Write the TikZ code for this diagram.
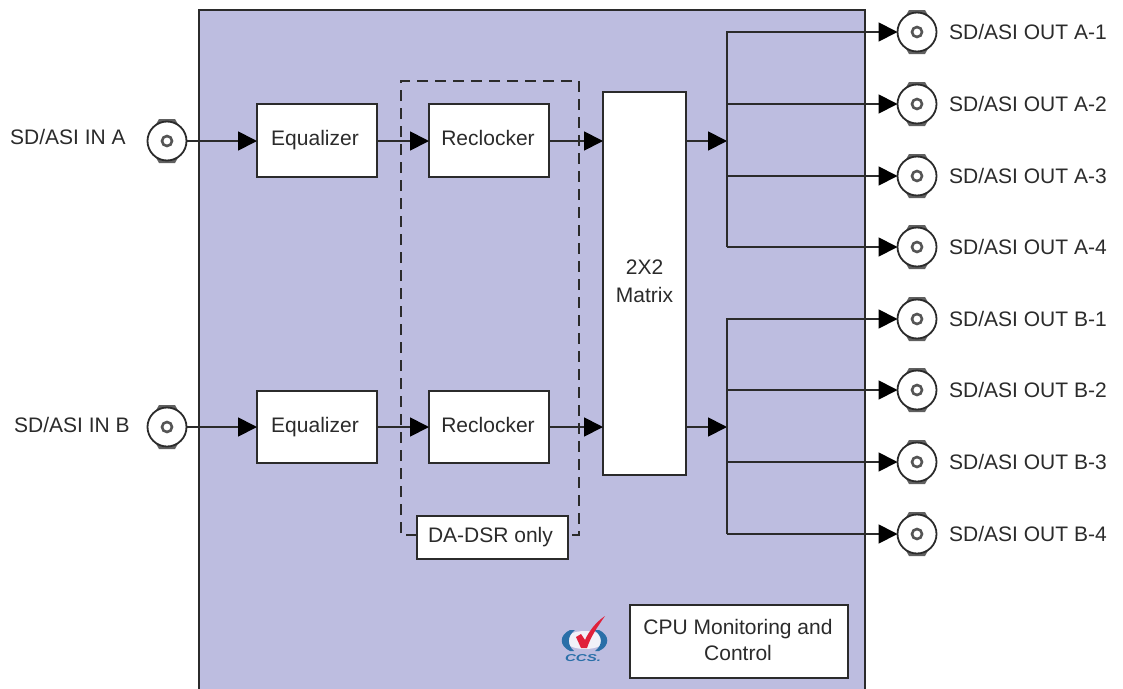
\documentclass[tikz,border=0pt]{standalone}
\usepackage{fontspec}
\setmainfont{Liberation Sans}
\usetikzlibrary{arrows.meta}
\definecolor{panel}{HTML}{BDBDE0}
\definecolor{ink}{HTML}{2B2B2B}
\definecolor{logoblue}{HTML}{2A6FA8}
\definecolor{logored}{HTML}{E0203A}
\tikzset{
  x=1pt,y=-1pt,
  lbl/.style={font=\fontsize{21}{26}\selectfont,text=ink,inner sep=0pt,align=center},
  blockbox/.style={draw=ink,fill=white,line width=1.8pt,minimum width=#1,inner sep=0pt,outer sep=0pt},
  blocktext/.style={font=\fontsize{21}{26}\selectfont,text=ink,inner sep=0pt,align=center},
  wire/.style={draw=ink,line width=1.8pt},
  arr/.style={wire,-{Triangle[length=19pt,width=19pt,color=black]},shorten >=0pt},
  bnc/.style={circle,draw=ink,fill=white,line width=1.8pt,minimum size=39pt,inner sep=0pt,outer sep=0pt},
  bnchole/.style={circle,draw=ink!80,line width=2.6pt,minimum size=10pt,inner sep=0pt,outer sep=0pt},
}
\newcommand{\boxat}[9]{\node[blockbox=#5pt,minimum height=#6pt,anchor=north west] (#1) at (#3,#4) {};
  \node[blocktext] (#1t) at ([xshift=#8pt,yshift=#9pt]#1.center) {#7};}
\newcommand{\jack}[3]{%
  \fill[ink!75] (#2-8,#3-22) -- (#2+8,#3-22) -- (#2+12,#3-15) -- (#2-12,#3-15) -- cycle;
  \fill[ink!75] (#2-8,#3+22) -- (#2+8,#3+22) -- (#2+12,#3+15) -- (#2-12,#3+15) -- cycle;
  \node[bnc] (#1) at (#2,#3) {};
  \node[bnchole] (#1h) at (#2,#3) {};
}
\begin{document}
\begin{tikzpicture}
\useasboundingbox (0,0) rectangle (1123,688);
\fill[white] (0,0) rectangle (1123,688);
\node[draw=ink,fill=panel,line width=1.8pt,minimum width=666pt,minimum height=682pt,inner sep=0pt,outer sep=0pt,anchor=north west] (panel) at (199,10) {};

% dashed
\draw[ink,line width=1.8pt,dash pattern=on 11pt off 7pt] (417,535) -- (401,535) -- (401,81) -- (579,81) -- (579,535) -- (568,535);

% blocks
\boxat{eqa}{}{257}{104}{120}{73}{Equalizer}{-2}{0}
\boxat{eqb}{}{257}{391}{120}{72}{Equalizer}{-2}{0}
\boxat{rca}{}{429}{104}{120}{73}{Reclocker}{-1}{3}
\boxat{rcb}{}{429}{391}{120}{72}{Reclocker}{-1}{2}
\node[blockbox=83pt,minimum height=383pt,anchor=north west] (mx) at (603,92) {};
\node[blocktext,font=\fontsize{21}{28}\selectfont] (mxt) at (644.5,281) {2X2\\Matrix};
\boxat{da}{}{417}{516}{151}{43}{DA-DSR only}{-2}{0}
\node[blockbox=218pt,minimum height=73pt,anchor=north west] (cpu) at (630,605) {};
\node[blocktext] (cput) at (738,640) {CPU Monitoring and\\Control};

% input jacks
\jack{ina}{167}{141}
\jack{inb}{167}{427}
\node[lbl,anchor=west] at (10,137) {SD/ASI IN A};
\node[lbl,anchor=west] at (14,425) {SD/ASI IN B};

% output jacks
\jack{oa1}{917}{32}
\jack{oa2}{917}{104}
\jack{oa3}{917}{176}
\jack{oa4}{917}{247}
\jack{ob1}{917}{319}
\jack{ob2}{917}{390}
\jack{ob3}{917}{462}
\jack{ob4}{917}{534}
\foreach \n/\y/\t in {1/32/A-1,2/104/A-2,3/176/A-3,4/247/A-4,5/319/B-1,6/390/B-2,7/462/B-3,8/534/B-4}
  \node[lbl,anchor=west] at (949,\y) {SD/ASI OUT \t};

% buses
\coordinate (busa) at (727,141);
\coordinate (busb) at (727,427);
\draw[arr] (ina.east) -- (ina.east -| eqa.west);
\draw[arr] (inb.east) -- (inb.east -| eqb.west);
\draw[arr] (eqa.east |- ina) -- (rca.west |- ina);
\draw[arr] (eqb.east |- inb) -- (rcb.west |- inb);
\draw[arr] (rca.east |- ina) -- (mx.west |- ina);
\draw[arr] (rcb.east |- inb) -- (mx.west |- inb);
\draw[arr] (mx.east |- busa) -- (busa);
\draw[arr] (mx.east |- busb) -- (busb);
\draw[arr] (oa4.west -| busa) -- (busa |- oa1) -- (oa1.west);
\draw[arr] (busa |- oa2) -- (oa2.west);
\draw[arr] (busa |- oa3) -- (oa3.west);
\draw[arr] (busa |- oa4) -- (oa4.west);
\draw[arr] (ob4.west -| busb) -- (busb |- ob1) -- (ob1.west);
\draw[arr] (busb |- ob2) -- (ob2.west);
\draw[arr] (busb |- ob3) -- (ob3.west);
\draw[arr] (busb |- ob4) -- (ob4.west);

% logo
\fill[white,opacity=.8] (585,640) ellipse (20pt and 9pt);
\fill[logoblue] (570,630) .. controls (559,635) and (559,646) .. (570,651) -- (574,651) .. controls (567,645) and (567,636) .. (575,630) -- cycle;
\fill[logoblue] (599,630) .. controls (610,635) and (610,646) .. (599,651) -- (595,651) .. controls (603,645) and (603,636) .. (594,630) -- cycle;
\fill[logored] (576,637) -- (581,634) -- (585,640) .. controls (589,631) and (596,622) .. (605,616) .. controls (598,626) and (591,636) .. (587,648) -- (581,648) -- cycle;
\node[font=\fontsize{10}{10}\selectfont\bfseries\itshape,text=logoblue,inner sep=0pt,xscale=1.5] (ccs) at (583,658) {CCS.};
\end{tikzpicture}
\end{document}
